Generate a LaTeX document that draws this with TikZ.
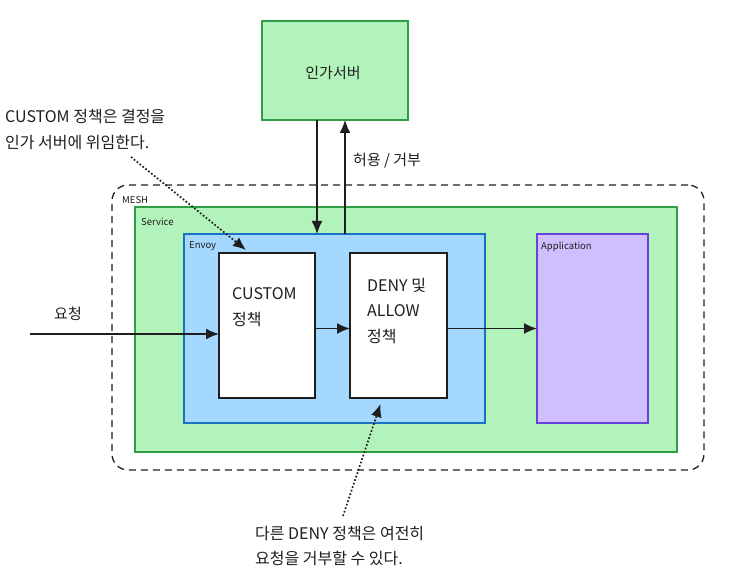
\documentclass[tikz,border=0pt]{standalone}
\usepackage{fontspec}
\setmainfont{Noto Sans CJK KR}
\usetikzlibrary{arrows.meta}
\definecolor{figline}{HTML}{1E1E1E}
\definecolor{grnfill}{HTML}{B2F2BB}
\definecolor{grnline}{HTML}{2F9E44}
\definecolor{bluefill}{HTML}{A5D8FF}
\definecolor{blueline}{HTML}{1971C2}
\definecolor{purpfill}{HTML}{D0BFFF}
\definecolor{purpline}{HTML}{6741D9}
\tikzset{
  box/.style   ={draw=figline, line width=1.2pt, inner sep=0pt, outer sep=0pt},
  grnbox/.style={box, draw=grnline, fill=grnfill},
  lab/.style   ={font=\fontsize{16}{19}\selectfont, inner sep=1pt, text=figline},
  labk/.style  ={font=\fontsize{15}{18}\selectfont, inner sep=1pt, text=figline},
  labs/.style  ={font=\fontsize{9.5}{11}\selectfont, inner sep=1pt, text=figline, anchor=west},
  ptr/.style   ={draw=figline, line width=1.6pt, -{Latex[length=13pt,width=11pt]}},
  note/.style  ={draw=figline, line width=1.7pt, dotted, -{Latex[length=13pt,width=11pt]}},
}
\begin{document}
\begin{tikzpicture}[x=1pt,y=-1pt]
  \useasboundingbox (0,0) rectangle (732,585);
  % authorization server
  \node[grnbox, minimum width=146pt, minimum height=99pt] (authsrv) at (335,70.5) {};
  \node[labk] (authlab) at (333,73) {인가서버};
  % mesh, service, envoy
  \node[draw=figline, line width=1.3pt, dashed, dash pattern=on 7pt off 5pt,
        rounded corners=16pt, minimum width=592pt, minimum height=285pt] (mesh) at (408,327.5) {};
  \node[labs] (meshlab) at (121,200) {MESH};
  \node[grnbox, minimum width=542pt, minimum height=245pt] (service) at (406,329.5) {};
  \node[labs] (servlab) at (140,222) {Service};
  \node[box, draw=blueline, fill=bluefill, minimum width=301pt, minimum height=189pt] (envoy) at (334.5,328.5) {};
  \node[labs] (envlab) at (188,246) {Envoy};
  % policies
  \node[box, fill=white, minimum width=96pt, minimum height=145pt] (custom) at (267,325.5) {};
  \node[lab, anchor=west] (custlab1) at (231,294) {CUSTOM};
  \node[lab, anchor=west] (custlab2) at (231,320) {정책};
  \node[box, fill=white, minimum width=97pt, minimum height=145pt] (deny) at (398.5,325.5) {};
  \node[lab, anchor=west] (denylab1) at (366,285) {DENY 및};
  \node[lab, anchor=west] (denylab2) at (366,311) {ALLOW};
  \node[lab, anchor=west] (denylab3) at (366,337) {정책};
  % application
  \node[box, draw=purpline, fill=purpfill, minimum width=111pt, minimum height=189pt] (app) at (592.5,328.5) {};
  \node[labs] (applab) at (540,247) {Application};
  % flow
  \coordinate (reqin) at (30,334);
  \node[labk] (reqlab) at (68,314) {요청};
  \draw[ptr] (reqin) -- (reqin -| custom.west);
  \draw[ptr] ([yshift=-3pt]custom.east) -- ([yshift=-3pt]deny.west);
  \draw[ptr] ([yshift=-3pt]deny.east) -- ([yshift=-3pt]deny.east -| app.west);
  \draw[ptr] ([xshift=-18pt]authsrv.south) -- ([xshift=-18pt]authsrv.south |- envoy.north);
  \draw[ptr] ([xshift=10pt]authsrv.south |- envoy.north) -- ([xshift=10pt]authsrv.south);
  \node[labk, anchor=west] (decision) at (352,161) {허용 / 거부};
  % notes
  \node[lab, anchor=west] (note1a) at (4,117) {CUSTOM 정책은 결정을};
  \node[lab, anchor=west] (note1b) at (4,143) {인가 서버에 위임한다.};
  \coordinate (note1tail) at (131,157);
  \draw[note] (note1tail) -- ([xshift=27pt,yshift=3pt]custom.north west);
  \node[lab, anchor=west] (note2a) at (254,534) {다른 DENY 정책은 여전히};
  \node[lab, anchor=west] (note2b) at (254,558) {요청을 거부할 수 있다.};
  \coordinate (note2tail) at (343,516);
  \draw[note] (note2tail) -- ([xshift=-18pt,yshift=-6pt]deny.south);
\end{tikzpicture}
\end{document}
